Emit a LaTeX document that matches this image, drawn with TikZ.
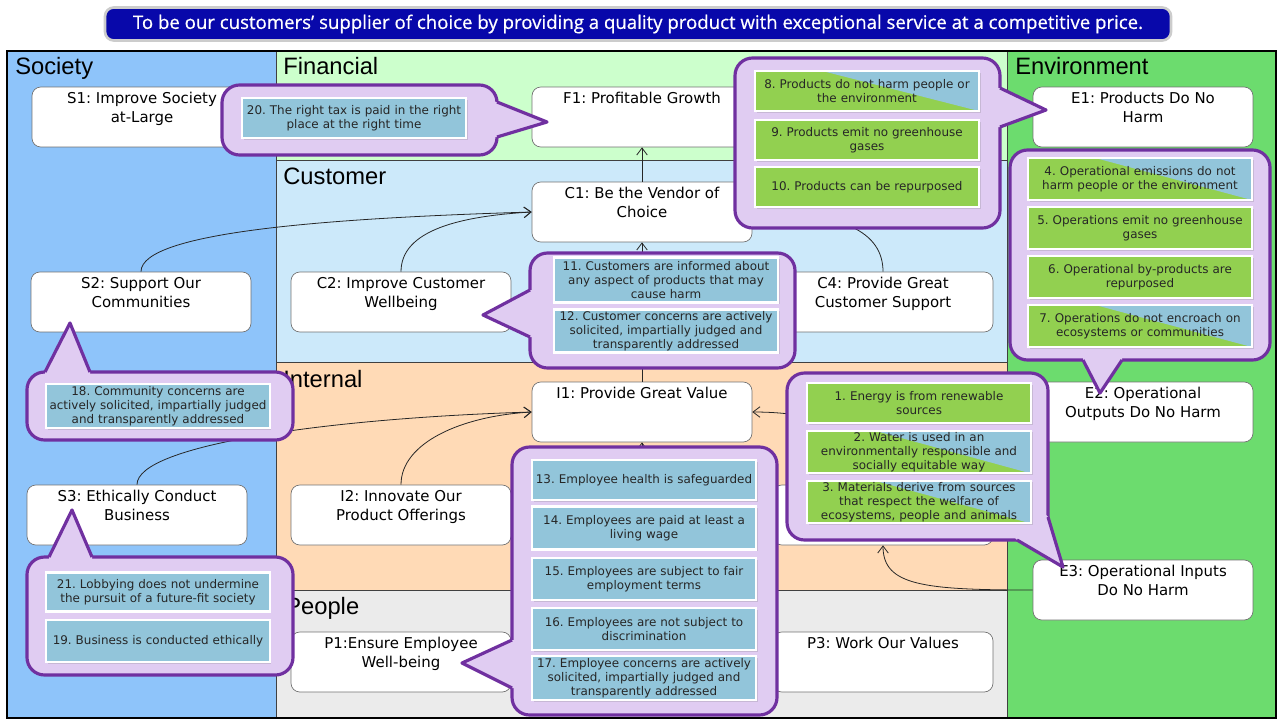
\documentclass[tikz,border=0pt]{standalone}
\usepackage{fontspec}
\setmainfont{DejaVu Sans}
\newfontfamily\lanefont{Liberation Sans}
\newfontfamily\notefont{DejaVu Sans}
\newfontfamily\bannerfont[FakeBold=0.6]{Open Sans}
\usetikzlibrary{arrows.meta,calc,shadows}
\frenchspacing

\definecolor{societyblue}{RGB}{142,196,250}
\definecolor{financialgreen}{RGB}{204,255,204}
\definecolor{customerblue}{RGB}{204,233,250}
\definecolor{internalpeach}{RGB}{255,218,182}
\definecolor{peoplegray}{RGB}{235,235,235}
\definecolor{environmentgreen}{RGB}{108,220,110}
\definecolor{calloutfill}{RGB}{224,204,242}
\definecolor{calloutedge}{RGB}{112,48,160}
\definecolor{noteblue}{RGB}{146,197,218}
\definecolor{notegreen}{RGB}{146,208,80}
\definecolor{bannerblue}{RGB}{8,8,170}

% box text sits at the top of the box
\newcommand{\bx}[1]{\parbox[c][1.2cm][t]{4.4cm}{\centering\rule{0pt}{9.5pt}#1}}
% pointer of a callout: base point, tip, base point, inward shift
\newcommand{\bubbletip}[4]{%
  \fill[calloutfill] #1 -- #2 -- #3 -- ($#3+#4$) -- ($#1+#4$) -- cycle;
  \draw[calloutedge, line width=1.8pt, line join=round] #1 -- #2 -- #3;}

\begin{document}
\begin{tikzpicture}[x=0.02cm, y=-0.02cm,
        box/.style = {draw=black!55, fill=white, rounded corners=5pt, inner sep=0pt,
                      font=\fontsize{8.5}{10.8}\selectfont},
        lane/.style = {draw=black!75, line width=0.5pt},
        lanetitle/.style = {anchor=base west, inner sep=0pt, font=\lanefont\fontsize{13.5}{16}\selectfont},
        link/.style = {draw=black!85, line width=0.45pt, -{Straight Barb[length=4pt,width=6pt]}},
        bubble/.style = {draw=calloutedge, fill=calloutfill, line width=1.8pt, rounded corners=10pt},
        note/.style = {draw=white, line width=1.2pt, fill=noteblue, text width=4.4cm, inner sep=1pt,
                       align=center, text=black!85, font=\notefont\fontsize{6.8}{7.9}\selectfont,
                       drop shadow={shadow xshift=1pt, shadow yshift=-1pt, opacity=0.25}},
        green/.style = {fill=notegreen},
        split/.style = {fill=notegreen, path picture={
            \fill[noteblue] ($(path picture bounding box.north west)!0.3!(path picture bounding box.north east)$)
                -- (path picture bounding box.north east) -- (path picture bounding box.south east) -- cycle;}},
        h/.style = {minimum height=#1*0.02cm}
        ]
    \useasboundingbox (0,0) rectangle (1280,720);
    \fill[white] (0,0) rectangle (1280,720);

    % mission statement
    \node[fill=bannerblue, draw=black!20, line width=1.5pt, rounded corners=5pt,
          minimum width=1066*0.02cm, minimum height=33*0.02cm, inner sep=0pt, text=white,
          font=\bannerfont\fontsize{10.6}{12}\selectfont] (goal) at (638,24)
        {To be our customers’ supplier of choice by providing a quality product with exceptional service at a competitive price.};

    % lanes
    \filldraw[lane, fill=societyblue] (7,51) rectangle (276,718);
    \filldraw[lane, fill=financialgreen] (276,51) rectangle (1007,160);
    \filldraw[lane, fill=customerblue] (276,160) rectangle (1007,362);
    \filldraw[lane, fill=internalpeach] (276,362) rectangle (1007,590);
    \filldraw[lane, fill=peoplegray] (276,590) rectangle (1007,718);
    \filldraw[lane, fill=environmentgreen] (1007,51) rectangle (1276,718);
    \draw[black, line width=0.7pt] (7,51) rectangle (1276,718);

    \node[lanetitle] (society) at (15,74) {Society};
    \node[lanetitle] (financial) at (283,74) {Financial};
    \node[lanetitle] (customer) at (283,184) {Customer};
    \node[lanetitle] (internal) at (283,387) {Internal};
    \node[lanetitle] (people) at (285,614) {People};
    \node[lanetitle] (environment) at (1015,74) {Environment};

    % objectives
    \node[box] (s1) at (142,117) {\bx{S1: Improve Society\\at-Large}};
    \node[box] (f1) at (642,117) {\bx{F1: Profitable Growth}};
    \node[box] (e1) at (1143,117) {\bx{E1: Products Do No\\Harm}};
    \node[box] (c1) at (642,212) {\bx{C1: Be the Vendor of\\Choice}};
    \node[box] (s2) at (141,302) {\bx{S2: Support Our\\Communities}};
    \node[box] (c2) at (401,302) {\bx{C2: Improve Customer\\Wellbeing}};
    \node[box] (c4) at (883,302) {\bx{C4: Provide Great\\Customer Support}};
    \node[box] (i1) at (642,412) {\bx{I1: Provide Great Value}};
    \node[box] (e2) at (1143,412) {\bx{E2: Operational\\Outputs Do No Harm}};
    \node[box] (s3) at (137,515) {\bx{S3: Ethically Conduct\\Business}};
    \node[box] (i2) at (401,515) {\bx{I2: Innovate Our\\Product Offerings}};
    \node[box] (i3) at (883,515) {\bx{}};
    \node[box] (e3) at (1143,590) {\bx{E3: Operational Inputs\\Do No Harm}};
    \node[box] (p1) at (401,662) {\bx{P1:Ensure Employee\\Well-being}};
    \node[box] (p3) at (883,662) {\bx{P3: Work Our Values}};
    \coordinate (p2) at (642,600);

    % links
    \draw[link] (c1) -- (f1);
    \draw[link] (i1) -- (c1);
    \draw[link] (p2) -- (i1);
    \draw[link] (s2.north) .. controls +(0,-40) and +(-200,6) .. (c1.west);
    \draw[link] (c2.north) .. controls +(0,-42) and +(-70,4) .. (c1.west);
    \draw[link] (c4.north) .. controls +(0,-40) and +(90,0) .. (c1.east);
    \draw[link] (s3.north) .. controls +(0,-40) and +(-200,6) .. (i1.west);
    \draw[link] (i2.north) .. controls +(0,-42) and +(-70,4) .. (i1.west);
    \draw[link] (i3.north) .. controls +(0,-40) and +(90,0) .. (i1.east);
    \draw[link] (e3.west) .. controls +(-110,0) and +(0,40) .. (i3.south);

    % callouts
    \draw[bubble] (222,85) rectangle (497,155);
    \bubbletip{(497,102)}{(547,122)}{(497,137)}{(-8,0)}
    \draw[bubble] (735,58) rectangle (1000,228);
    \bubbletip{(1000,88)}{(1046,110)}{(1000,127)}{(-8,0)}
    \draw[bubble] (1010,150) rectangle (1270,360);
    \bubbletip{(1083,360)}{(1100,393)}{(1122,360)}{(0,-8)}
    \draw[bubble] (530,253) rectangle (795,368);
    \bubbletip{(530,290)}{(483,315)}{(530,337)}{(8,0)}
    \draw[bubble] (27,372) rectangle (293,440);
    \bubbletip{(45,372)}{(70,323)}{(90,372)}{(0,8)}
    \draw[bubble] (787,373) rectangle (1048,540);
    \bubbletip{(1017,540)}{(1063,567)}{(1048,517)}{(-8,-8)}
    \draw[bubble] (512,447) rectangle (777,715);
    \bubbletip{(512,640)}{(462,663)}{(512,688)}{(8,0)}
    \draw[bubble] (27,557) rectangle (293,675);
    \bubbletip{(49,557)}{(72,510)}{(92,557)}{(0,8)}

    % goals
    \node[note, h=40] (n20) at (354,118) {20. The right tax is paid in the right\\place at the right time};
    \node[note, split, h=40] (n8) at (867,91) {8. Products do not harm people or\\the environment};
    \node[note, green, h=40] (n9) at (867,140) {9. Products emit no greenhouse\\gases};
    \node[note, green, h=40] (n10) at (867,187) {10. Products can be repurposed};
    \node[note, split, h=42] (n4) at (1140,179) {4. Operational emissions do not\\harm people or the environment};
    \node[note, green, h=42] (n5) at (1140,228) {5. Operations emit no greenhouse\\gases};
    \node[note, green, h=42] (n6) at (1140,277) {6. Operational by-products are\\repurposed};
    \node[note, split, h=42] (n7) at (1140,326) {7. Operations do not encroach on\\ecosystems or communities};
    \node[note, h=45] (n11) at (666,280) {11. Customers are informed about\\any aspect of products that may\\cause harm};
    \node[note, h=43] (n12) at (666,331) {12. Customer concerns are actively\\solicited, impartially judged and\\transparently addressed};
    \node[note, h=44] (n18) at (158,406) {18. Community concerns are\\actively solicited, impartially judged\\and transparently addressed};
    \node[note, green, h=40] (n1) at (919,403) {1. Energy is from renewable\\sources};
    \node[note, split, h=42] (n2) at (919,452) {2. Water is used in an\\environmentally responsible and\\socially equitable way};
    \node[note, split, h=42] (n3) at (919,502) {3. Materials derive from sources\\that respect the welfare of\\ecosystems, people and animals};
    \node[note, h=40] (n13) at (644,480) {13. Employee health is safeguarded};
    \node[note, h=43] (n14) at (644,528) {14. Employees are paid at least a\\living wage};
    \node[note, h=42] (n15) at (644,579) {15. Employees are subject to fair\\employment terms};
    \node[note, h=42] (n16) at (644,629) {16. Employees are not subject to\\discrimination};
    \node[note, h=44] (n17) at (644,678) {17. Employee concerns are actively\\solicited, impartially judged and\\transparently addressed};
    \node[note, h=39] (n21) at (158,592) {21. Lobbying does not undermine\\the pursuit of a future-fit society};
    \node[note, h=42] (n19) at (158,641) {19. Business is conducted ethically};
\end{tikzpicture}
\end{document}
